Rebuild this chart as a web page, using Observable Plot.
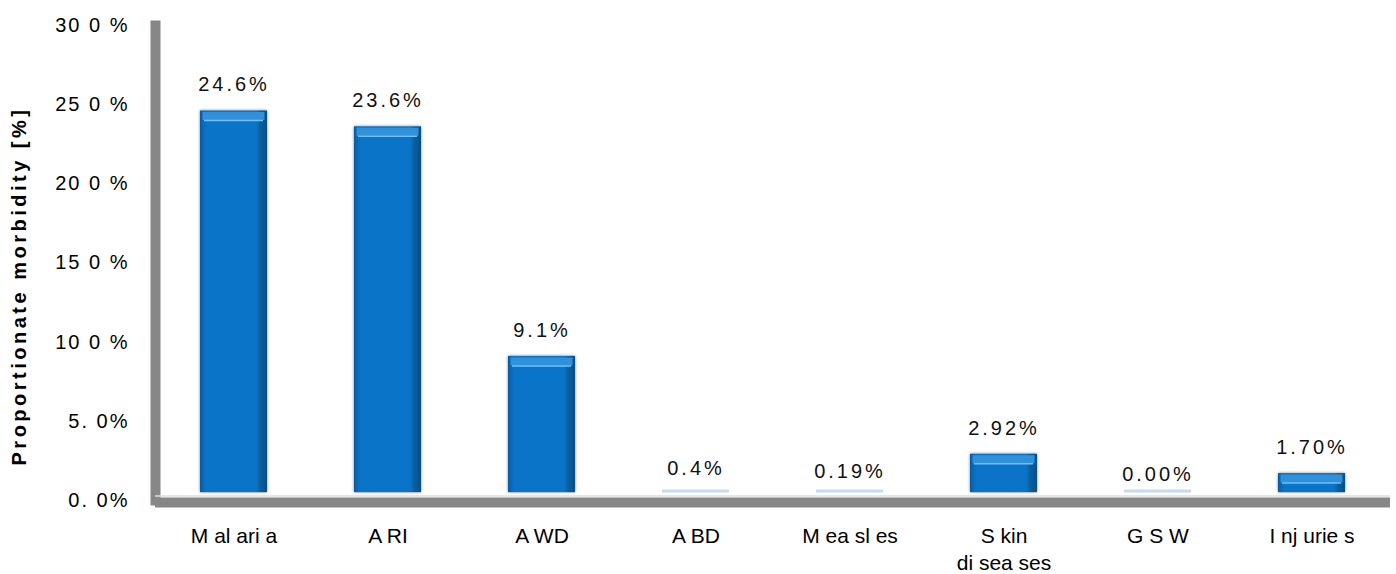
<!DOCTYPE html>
<html><head><meta charset="utf-8">
<script src="https://cdn.jsdelivr.net/npm/d3@7"></script>
<script src="https://cdn.jsdelivr.net/npm/@observablehq/plot@0.6"></script>
<style>
body{margin:0;background:#fff;}
</style></head><body><div id="chart"></div>
<script>
const categories = ["M al ari a","A RI","A WD","A BD","M ea sl es","S kin\ndi sea ses","G S W","I nj urie s"];
const values = [24.6, 23.6, 9.1, 0.4, 0.19, 2.92, 0.00, 1.70];
const valueLabels = ["24.6%","23.6%","9.1%","0.4%","0.19%","2.92%","0.00%","1.70%"];
const yTicks = [0,5,10,15,20,25,30];
const yTickLabels = ["0. 0%","5. 0%","10 0 %","15 0 %","20 0 %","25 0 %","30 0 %"];
const yLabel = "Proportionate morbidity [%]";

const data = categories.map((c,i)=>({cat:c, value:values[i], label:valueLabels[i]}));
const big = d => d.value >= 1;

const plot = Plot.plot({
  width:1396, height:574,
  marginLeft:155, marginRight:6, marginTop:25, marginBottom:74,
  style:{fontFamily:"'Liberation Sans', Arial, sans-serif", background:"#fff", color:"#000"},
  x:{domain:categories, paddingInner:0.565, paddingOuter:0.2825},
  y:{domain:[0,30]},
  marks:[
    Plot.frame({anchor:"left", stroke:"#878787", strokeWidth:10}),
    Plot.ruleY([0], {stroke:"#878787", strokeWidth:10, dy:2}),
    Plot.ruleY([0], {stroke:"#dedede", strokeWidth:1.5, dy:-4.5}),
    Plot.tickY(data, {x:"cat", y:() => 0, dy:-9.5, stroke:"#c4daee", strokeWidth:3}),
    Plot.barY(data, {filter:big, x:"cat", y:"value", insetBottom:8, fill:"url(#barGrad)"}),
    Plot.tickY(data, {filter:big, x:"cat", y:"value", dy:5, stroke:"#2f90dc", strokeWidth:8, insetLeft:2.5, insetRight:2.5}),
    Plot.tickY(data, {filter:big, x:"cat", y:"value", dy:9.5, stroke:"#79c0f0", strokeWidth:1.5, insetLeft:4, insetRight:4}),
    Plot.text(data, {x:"cat", y:"value", text:"label", dy:-26, fontSize:20, fill:"#111"}),
    Plot.axisY(yTicks, {tickSize:0, tickPadding:26, tickFormat:d => yTickLabels[yTicks.indexOf(d)], fontSize:20,
      label:yLabel, labelAnchor:"center", labelArrow:"none", labelOffset:137}),
    Plot.axisX({tickSize:0, tickPadding:23, fontSize:21, lineHeight:1.3, label:null})
  ]
});

const svg = d3.select(plot);
const defs = svg.insert("defs", ":first-child");
const lg = defs.append("linearGradient").attr("id","barGrad").attr("x1",0).attr("x2",1).attr("y1",0).attr("y2",0);
[[0,"#0a5a9e"],[0.04,"#0b66b3"],[0.09,"#0a74c8"],[0.84,"#0a74c8"],[0.9,"#0a5f9f"],[1,"#084f86"]]
  .forEach(([o,c]) => lg.append("stop").attr("offset",o).attr("stop-color",c));
svg.select('g[aria-label="bar"]').style("filter","drop-shadow(0 0 1.5px rgba(0,0,0,0.5))");
svg.select('g[aria-label="text"]').selectAll("text").style("letter-spacing","3px");
svg.select('g[aria-label="y-axis tick label"]').selectAll("text").style("letter-spacing","2px");
const yl = svg.select('g[aria-label="y-axis label"]');
yl.attr("transform", null);
yl.selectAll("text")
  .style("font-weight","bold").style("font-size","20px").style("letter-spacing","3.5px")
  .attr("x", null).attr("y", null).attr("dy","0.35em").attr("text-anchor","middle")
  .attr("transform","translate(19,286) rotate(-90)");
document.getElementById("chart").appendChild(plot);
</script></body></html>
